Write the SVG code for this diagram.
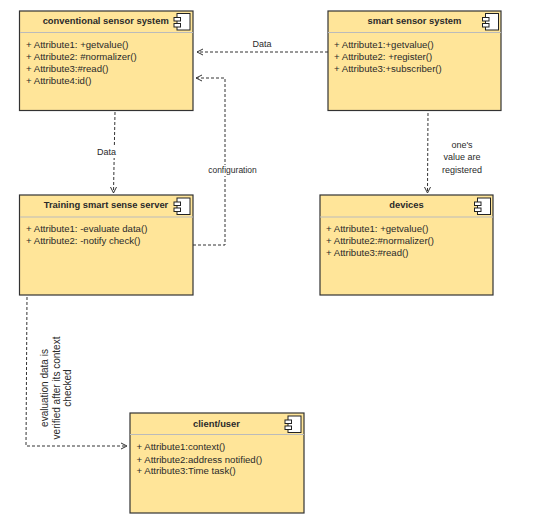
<svg xmlns="http://www.w3.org/2000/svg" width="538" height="520" viewBox="0 0 538 520">
<style>
text{font-family:"Liberation Sans",Arial,sans-serif;font-size:9.600px;fill:#2a2a2a}
.t{font-weight:bold;font-size:9.400px;text-anchor:middle}
.l{font-size:9px;text-anchor:middle}
.r{font-size:10px;text-anchor:middle}
.box{fill:#ffe599;stroke:#333;stroke-width:1.2}
.div{stroke:#bbb;stroke-width:1.2;fill:none}
.ic{fill:#fff;stroke:#222;stroke-width:1}
.c{fill:none;stroke:#333;stroke-width:1;stroke-dasharray:3 2}
.a{fill:none;stroke:#333;stroke-width:1}
</style>
<defs>
<g id="icon">
<rect class="ic" x="3" y="0" width="13" height="16.500"/>
<rect class="ic" x="0" y="4" width="6.500" height="3.500"/>
<rect class="ic" x="0" y="10" width="6.500" height="3.500"/>
</g>
</defs>
<rect width="538" height="520" fill="#fff"/>
<g id="connectors">
<path class="c" d="M328 52H197"/><path class="a" d="M203 49L197 52L203 55"/>
<path class="c" d="M193 245H225V78H196"/><path class="a" d="M202 75L196 78L202 81"/>
<path class="c" d="M115 112L113.500 193"/><path class="a" d="M110.500 187L113.500 193L116.500 187"/>
<path class="c" d="M428 113L427.500 193"/><path class="a" d="M424.500 187L427.500 193L430.500 187"/>
<path class="c" d="M27 297L26 446H127"/><path class="a" d="M121 443L127 446L121 449"/>
<rect x="97" y="147" width="19" height="11" fill="#fff"/>
<rect x="207" y="165" width="51" height="11" fill="#fff"/>
<text class="l" x="262" y="47">Data</text>
<text class="l" x="106.500" y="155">Data</text>
<text class="l" x="232.500" y="173" style="font-size:8.500px">configuration</text>
<text class="l" x="462" y="148">one's</text>
<text class="l" x="462" y="160">value are</text>
<text class="l" x="462" y="173">registered</text>
<g transform="translate(47.500 388) rotate(-90)">
<text class="r" x="0" y="0">evaluation data is</text>
<text class="r" x="0" y="12">verified after its context</text>
<text class="r" x="0" y="23">checked</text>
</g>
</g>
<g id="conventional-sensor-system">
<rect class="box" x="19.500" y="11" width="173.500" height="99.500"/>
<line class="div" x1="20" y1="32.500" x2="193" y2="32.500"/>
<text class="t" x="105.700" y="24">conventional sensor system</text>
<use href="#icon" x="174" y="13.500"/>
<text x="26" y="48">+ Attribute1: +getvalue()</text>
<text x="26" y="60">+ Attribute2: #normalizer()</text>
<text x="26" y="72">+ Attribute3:#read()</text>
<text x="26" y="84">+ Attribute4:id()</text>
</g>
<g id="smart-sensor-system">
<rect class="box" x="328" y="11" width="173" height="99.500"/>
<line class="div" x1="328" y1="32.500" x2="501" y2="32.500"/>
<text class="t" x="414.500" y="24">smart sensor system</text>
<use href="#icon" x="482.500" y="13.500"/>
<text x="334" y="48">+ Attribute1:+getvalue()</text>
<text x="334" y="60">+ Attribute2: +register()</text>
<text x="334" y="72">+ Attribute3:+subscriber()</text>
</g>
<g id="training-smart-sense-server">
<rect class="box" x="19.500" y="195" width="173.500" height="100"/>
<line class="div" x1="20" y1="217" x2="193" y2="217"/>
<text class="t" x="106" y="208">Training smart sense server</text>
<use href="#icon" x="174" y="198"/>
<text x="26" y="232">+ Attribute1: -evaluate data()</text>
<text x="26" y="244">+ Attribute2: -notify check()</text>
</g>
<g id="devices">
<rect class="box" x="320" y="195" width="173" height="100"/>
<line class="div" x1="320" y1="217" x2="493" y2="217"/>
<text class="t" x="406.500" y="208">devices</text>
<use href="#icon" x="474.500" y="198"/>
<text x="326" y="232">+ Attribute1: +getvalue()</text>
<text x="326" y="244">+ Attribute2:#normalizer()</text>
<text x="326" y="256">+ Attribute3:#read()</text>
</g>
<g id="client-user">
<rect class="box" x="130" y="413" width="174" height="100"/>
<line class="div" x1="130" y1="434.500" x2="304" y2="434.500"/>
<text class="t" x="216.500" y="427">client/user</text>
<use href="#icon" x="285" y="416"/>
<text x="136.500" y="450">+ Attribute1:context()</text>
<text x="136.500" y="463">+ Attribute2:address notified()</text>
<text x="136.500" y="474">+ Attribute3:Time task()</text>
</g>
</svg>
